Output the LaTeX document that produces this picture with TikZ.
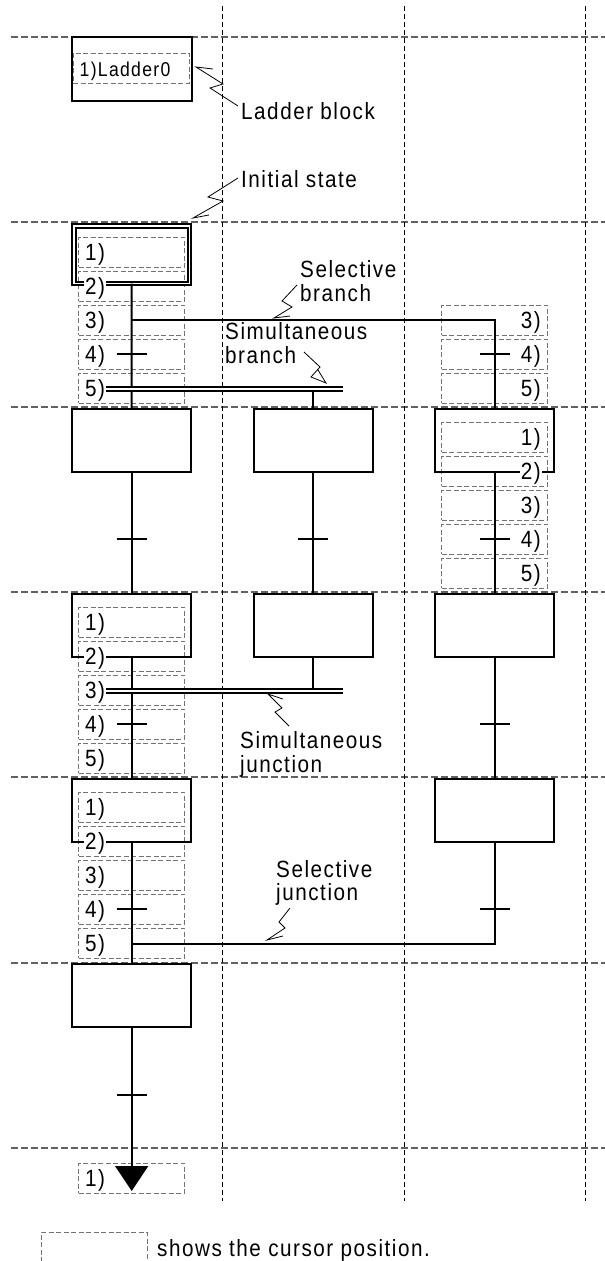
\documentclass[tikz,border=0pt]{standalone}
\usepackage{fontspec}
\setmainfont{Liberation Sans}[LetterSpace=6.5,FakeStretch=0.88]
\usetikzlibrary{calc}
\newcommand\bigfont{\fontsize{23.5}{25}\selectfont}
\newcommand\smallfont{\fontsize{20}{22}\selectfont}
\tikzset{
  gridh/.style={draw=black!62, line width=1.2pt, dash pattern=on 7pt off 3pt},
  gridv/.style={draw=black, line width=0.9pt, dash pattern=on 5pt off 3pt},
  cursor/.style={draw=black!55, line width=1pt, dash pattern=on 5pt off 2.5pt,
    minimum width=106pt, minimum height=30pt, inner sep=0pt, outer sep=0pt},
  stepbox/.style={draw=black, line width=2pt, minimum width=119.3pt, minimum height=63pt,
    anchor=north, inner sep=0pt, outer sep=0pt},
  flow/.style={draw=black, line width=2pt},
  tick/.style={draw=black, line width=2pt},
  lbl/.style={fill=white, inner sep=1pt, font=\bigfont},
  txt/.style={inner sep=0pt, anchor=base west, font=\bigfont},
  leader/.style={draw=black, line width=0.8pt, line join=miter},
}
\begin{document}
\begin{tikzpicture}[x=1pt,y=-1pt]
\useasboundingbox (0,0) rectangle (605,1261);
\def\cA{131.7}
\def\cB{313.2}
\def\cC{494.7}
% grid
\foreach \g in {37,222,407,592,777,963,1148} \draw[gridh] (11,\g) -- (605,\g);
\foreach \x in {222,404,585} \draw[gridv] (\x,6) -- (\x,1201);

% cursor boxes, column 1
\foreach \g/\k in {222/1,222/2,222/3,222/4,222/5,592/1,592/2,592/3,592/4,592/5,777/1,777/2,777/3,777/4,777/5,1148/1}
  \node[cursor] (cA-\g-\k) at (\cA,{\g+30+34*(\k-1)}) {};
% cursor boxes, column 3
\foreach \g/\k in {222/3,222/4,222/5,407/1,407/2,407/3,407/4,407/5}
  \node[cursor] (cC-\g-\k) at (\cC,{\g+30+34*(\k-1)}) {};

% ladder block
\node[draw=black, line width=2pt, minimum width=120pt, minimum height=64pt, anchor=north, inner sep=0pt, outer sep=0pt] (ladder) at (131.7,37) {};
\node[cursor, minimum width=116pt, minimum height=30.3pt] (ladcur) at (131.3,68.2) {};
\node[inner sep=0pt, anchor=base west, font=\smallfont] (ladtxt) at (79.5,76) {1)Ladder0};

% step boxes
\node[stepbox, double, double distance=1.5pt, minimum width=115.8pt, minimum height=57.5pt] (A222) at (131.65,226) {};
\node[stepbox] (A407) at (\cA,408.7) {};
\node[stepbox] (B407) at (\cB,408.7) {};
\node[stepbox] (C407) at (\cC,408.7) {};
\node[stepbox] (A592) at (\cA,593.7) {};
\node[stepbox] (B592) at (\cB,593.7) {};
\node[stepbox] (C592) at (\cC,593.7) {};
\node[stepbox] (A777) at (\cA,778.7) {};
\node[stepbox] (C777) at (\cC,778.7) {};
\node[stepbox] (A963) at (\cA,964.2) {};

% branch / junction points
\coordinate (selB) at (\cA,320);
\coordinate (selBr) at (\cC,320);
\coordinate (simBL) at (104,388.75);
\coordinate (simBR) at (343,388.75);
\coordinate (simBc) at (\cB,391);
\coordinate (simJL) at (104,690.75);
\coordinate (simJR) at (343,690.75);
\coordinate (simJc) at (\cB,688.5);
\coordinate (selJ) at (\cC,943.5);
\coordinate (selJl) at (\cA,943.5);
\coordinate (tri) at (\cA,1167);

% connectors
\draw[flow] (A222.south) -- (A407.north);
\draw[flow] (selB) -- (selBr) -- (C407.north);
\draw[flow] (simBc) -- (B407.north);
\draw[flow] (A407.south) -- (A592.north);
\draw[flow] (B407.south) -- (B592.north);
\draw[flow] (C407.south) -- (C592.north);
\draw[flow] (A592.south) -- (A777.north);
\draw[flow] (B592.south) -- (simJc);
\draw[flow] (C592.south) -- (C777.north);
\draw[flow] (A777.south) -- (A963.north);
\draw[flow] (C777.south) -- (selJ) -- (selJl);
\draw[flow] (A963.south) -- (tri);
\draw[flow, double, double distance=2.5pt] (simBL) -- (simBR);
\draw[flow, double, double distance=2.5pt] (simJL) -- (simJR);
\fill (115,1166) -- (148.4,1166) -- (\cA,1191) -- cycle;

% transitions
\foreach \x/\y in {\cA/354,\cA/539,\cA/724,\cA/909,\cA/1095,\cB/539,\cC/354,\cC/539,\cC/724,\cC/909}
  \draw[tick] ({\x-15},\y) -- ({\x+15},\y);

% row labels, column 1
\foreach \g/\k in {222/1,222/2,222/3,222/4,222/5,592/1,592/2,592/3,592/4,592/5,777/1,777/2,777/3,777/4,777/5,1148/1}
  \node[lbl, anchor=base west] (lA-\g-\k) at (84,{\g+38.5+34*(\k-1)}) {\k)};
% row labels, column 3
\foreach \g/\k in {222/3,222/4,222/5,407/1,407/2,407/3,407/4,407/5}
  \node[lbl, anchor=base east] (lC-\g-\k) at (542,{\g+38.5+34*(\k-1)}) {\k)};

% annotation texts
\node[txt] (tLad) at (241,119.3) {Ladder block};
\node[txt] (tIni) at (241,187.3) {Initial state};
\node[txt] (tSB1) at (300,277) {Selective};
\node[txt] (tSB2) at (300,301.5) {branch};
\node[txt] (tMB1) at (225,339.3) {Simultaneous};
\node[txt] (tMB2) at (225,363.3) {branch};
\node[txt] (tMJ1) at (240,748) {Simultaneous};
\node[txt] (tMJ2) at (240,772) {junction};
\node[txt] (tSJ1) at (276,877) {Selective};
\node[txt] (tSJ2) at (276,900) {junction};

% leaders
\draw[leader] (238,106) -- (210,88) -- (223,84) -- (196,67) -- (213,69);
\draw[leader] (238,178) -- (208,197) -- (223,201) -- (193,218) -- (209,215);
\draw[leader] (297,285) -- (282,301) -- (292,307) -- (274,318) -- (290,316);
\draw[leader] (304,352) -- (320,367) -- (311,377) -- (326,383) -- (318,370);
\draw[leader] (289,726) -- (275,712) -- (282,708) -- (268,694) -- (283,699);
\draw[leader] (290,908) -- (279,922) -- (285,928) -- (267,940) -- (283,936);

% legend
\draw[cursor] (41,1262) -- (41,1232) -- (147,1232) -- (147,1262);
\node[txt] (tLeg) at (157,1256) {shows the cursor position.};
\end{tikzpicture}
\end{document}
